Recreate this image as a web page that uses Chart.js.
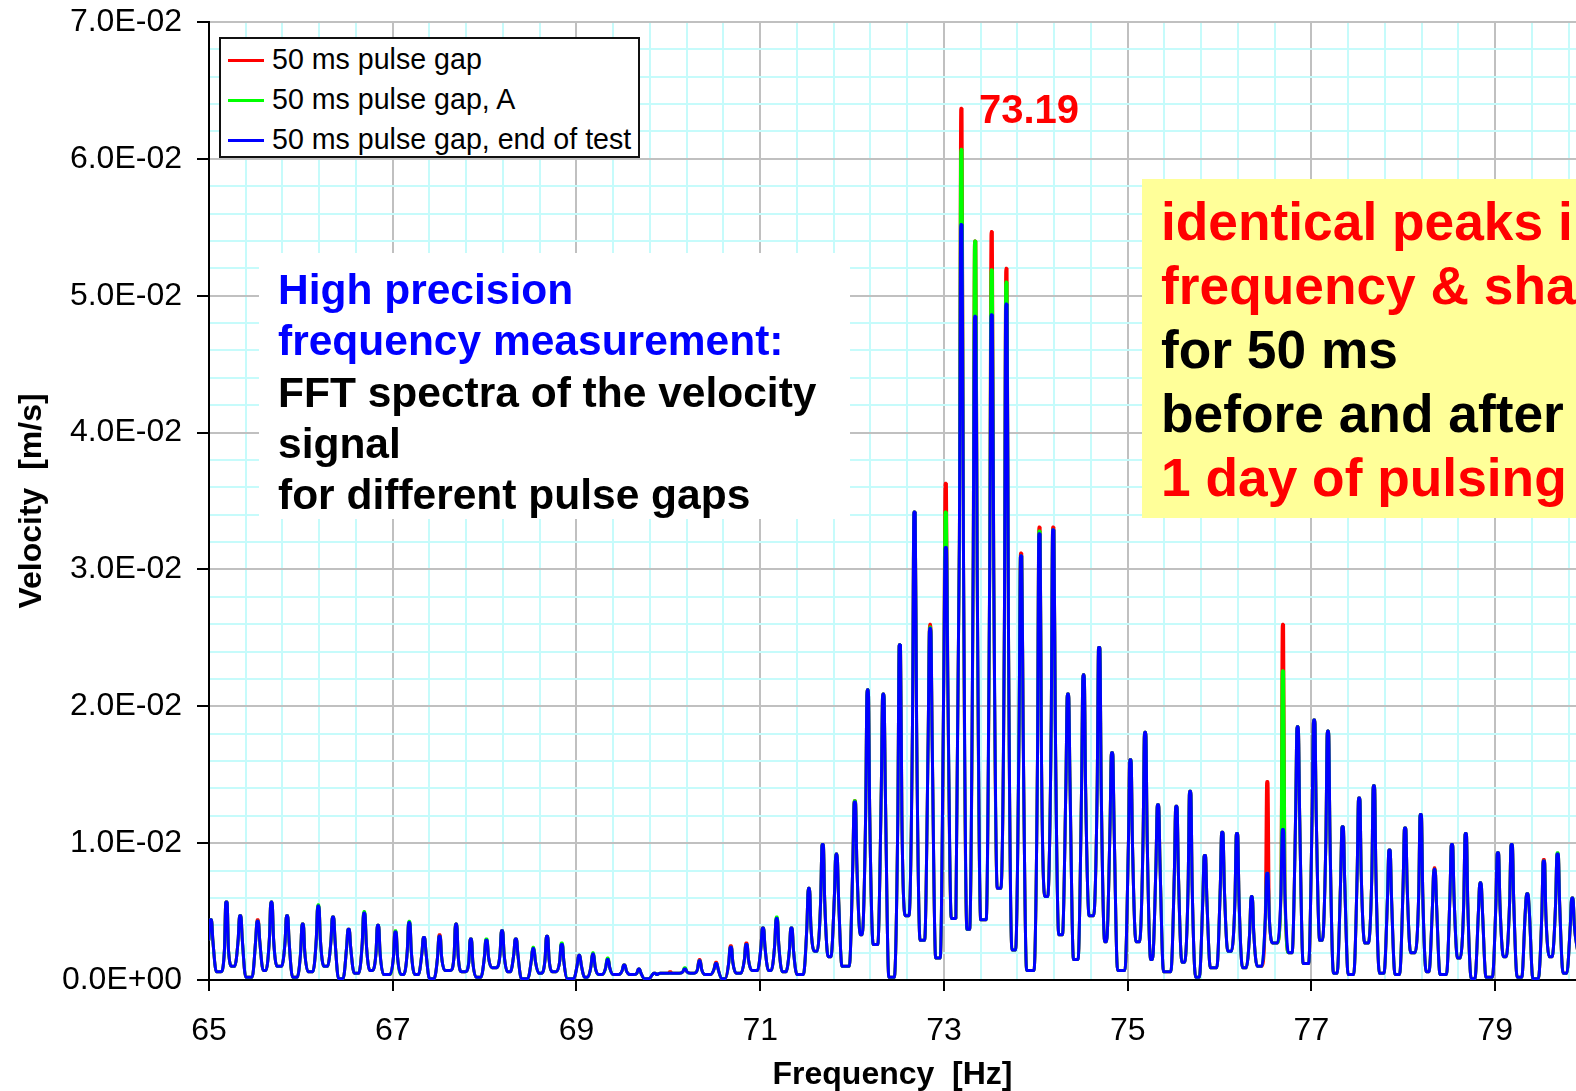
<!DOCTYPE html>
<html>
<head>
<meta charset="utf-8">
<script src="https://cdn.jsdelivr.net/npm/chart.js@4/dist/chart.umd.min.js"></script>
<style>
html,body{margin:0;padding:0;background:#fff;}
#wrap{position:relative;width:1576px;height:1091px;overflow:hidden;background:#fff;}
#c{position:absolute;left:0;top:0;}
.ov{position:absolute;font-family:"Liberation Sans",Arial,Helvetica,sans-serif;white-space:nowrap;}
#note1{left:259px;top:253px;width:591px;height:266px;background:#fff;}
#note1txt{left:278px;top:264px;font-weight:bold;font-size:42.5px;line-height:51.3px;color:#000;}
#note2{left:1142px;top:179px;width:600px;height:339px;background:#ffff99;}
#note2txt{left:1161px;top:190px;font-weight:bold;font-size:53.3px;line-height:64px;color:#000;}
#peakLabel{left:979px;top:89px;font-weight:bold;font-size:40px;line-height:40px;color:#ff0000;}
#legendBox{left:219px;top:37px;width:421px;height:121px;box-sizing:border-box;border:2px solid #111;background:#fff;}
.lgLine{position:absolute;height:3px;width:36px;}
.lgText{position:absolute;font-family:"Liberation Sans",Arial,Helvetica,sans-serif;font-size:28.6px;line-height:28.6px;color:#000;white-space:nowrap;}
.red{color:#ff0000;} .blue{color:#0000ff;}
</style>
</head>
<body>
<div id="wrap">
<canvas id="c" width="1576" height="1091"></canvas>
<div id="note1" class="ov"></div>
<div id="note1txt" class="ov"><span class="blue">High precision</span><br><span class="blue">frequency measurement:</span><br>FFT spectra of the velocity<br>signal<br>for different pulse gaps</div>
<div id="note2" class="ov"></div>
<div id="note2txt" class="ov"><span class="red">identical peaks in</span><br><span class="red">frequency &amp; shape</span><br>for 50 ms<br>before and after<br><span class="red">1 day of pulsing</span></div>
<div id="peakLabel" class="ov">73.19</div>
<div id="legendBox" class="ov"></div>
</div>
<script>
// ---- data ----
const peakFreq = [
65.02,65.19,65.34,65.53,65.68,65.85,66.02,66.19,66.35,66.52,
66.69,66.84,67.03,67.18,67.34,67.51,67.69,67.85,68.02,68.19,
68.34,68.53,68.68,68.84,69.03,69.18,69.34,69.52,69.68,69.85,
70.02,70.18,70.34,70.52,70.68,70.85,71.03,71.18,71.34,71.53,
71.68,71.83,72.03,72.17,72.34,72.52,72.68,72.85,73.02,73.19,
73.34,73.52,73.68,73.84,74.04,74.19,74.35,74.52,74.69,74.83,
75.03,75.19,75.33,75.53,75.68,75.84,76.03,76.19,76.35,76.52,
76.69,76.85,77.03,77.18,77.34,77.52,77.68,77.85,78.02,78.19,
78.34,78.53,78.68,78.84,79.03,79.18,79.35,79.53,79.68,79.84];

const peakRed = [
.0044,.0057,.0047,.0044,.0057,.0047,.0041,.0054,.0046,.0037,
.0049,.0040,.0035,.0042,.0031,.0033,.0041,.0030,.0029,.0036,
.0030,.0023,.0032,.0026,.0018,.0019,.0015,.0011,.0008,.0005,
.0006,.0008,.0015,.0013,.0025,.0027,.0038,.0045,.0038,.0067,
.0099,.0092,.0131,.0212,.0209,.0245,.0342,.0260,.0363,.0637,
.0540,.0547,.0520,.0312,.0331,.0331,.0209,.0223,.0243,.0166,
.0161,.0181,.0128,.0127,.0138,.0091,.0108,.0107,.0061,.0145,
.0260,.0185,.0190,.0182,.0112,.0133,.0142,.0095,.0111,.0121,
.0082,.0099,.0107,.0071,.0093,.0099,.0063,.0088,.0092,.0060];

const peakGreen = [
.0044,.0057,.0047,.0043,.0057,.0047,.0041,.0055,.0046,.0037,
.0050,.0040,.0036,.0043,.0031,.0032,.0041,.0030,.0030,.0036,
.0030,.0024,.0032,.0027,.0018,.0020,.0016,.0011,.0008,.0005,
.0005,.0009,.0014,.0012,.0024,.0026,.0038,.0046,.0038,.0067,
.0099,.0092,.0131,.0212,.0209,.0245,.0342,.0258,.0342,.0607,
.0540,.0519,.0510,.0310,.0328,.0329,.0209,.0223,.0243,.0166,
.0161,.0181,.0128,.0127,.0138,.0091,.0108,.0107,.0061,.0078,
.0226,.0185,.0190,.0182,.0112,.0133,.0142,.0095,.0111,.0121,
.0081,.0099,.0107,.0071,.0093,.0099,.0063,.0087,.0093,.0060];

const peakBlue = [
.0044,.0057,.0047,.0043,.0057,.0047,.0041,.0054,.0046,.0037,
.0049,.0040,.0035,.0042,.0031,.0032,.0041,.0030,.0029,.0036,
.0030,.0023,.0032,.0026,.0018,.0019,.0015,.0011,.0008,.0005,
.0005,.0008,.0014,.0012,.0024,.0026,.0038,.0045,.0038,.0067,
.0099,.0092,.0130,.0212,.0209,.0245,.0342,.0257,.0316,.0552,
.0485,.0486,.0494,.0310,.0326,.0329,.0209,.0223,.0243,.0166,
.0161,.0181,.0128,.0127,.0138,.0091,.0108,.0107,.0061,.0078,
.0110,.0185,.0190,.0182,.0112,.0133,.0142,.0095,.0111,.0121,
.0081,.0099,.0107,.0071,.0093,.0099,.0063,.0087,.0092,.0060];

// level at the foot of each spike
const shoulder = [
.0029,.0022,.0030,.0029,.0031,.0028,.0021,.0030,.0029,.0024,
.0027,.0020,.0017,.0021,.0020,.0017,.0018,.0013,.0017,.0019,
.0019,.0014,.0015,.0014,.0011,.0010,.0009,.0007,.0005,.0004,
.0005,.0006,.0008,.0008,.0013,.0015,.0024,.0026,.0022,.0039,
.0058,.0062,.0085,.0122,.0139,.0120,.0190,.0175,.0220,.0320,
.0300,.0300,.0260,.0185,.0160,.0190,.0145,.0140,.0140,.0113,
.0100,.0105,.0085,.0078,.0069,.0059,.0068,.0059,.0035,.0045,
.0063,.0120,.0122,.0105,.0073,.0078,.0078,.0060,.0069,.0063,
.0055,.0062,.0056,.0050,.0056,.0058,.0050,.0048,.0056,.0040];

// minimum between consecutive spikes
const valley = [
.0006,.0010,.0002,.0007,.0010,.0002,.0006,.0010,.0001,.0005,
.0007,.0004,.0004,.0004,.0001,.0007,.0006,.0002,.0009,.0006,
.0001,.0005,.0006,.0001,.0002,.0004,.0004,.0004,.0001,.0005,
.0005,.0005,.0004,.0001,.0005,.0007,.0007,.0006,.0004,.0021,
.0017,.0010,.0033,.0026,.0002,.0047,.0029,.0016,.0045,.0037,
.0044,.0067,.0022,.0007,.0061,.0033,.0015,.0047,.0028,.0007,
.0028,.0015,.0006,.0013,.0002,.0009,.0021,.0009,.0010,.0027,
.0020,.0012,.0029,.0005,.0004,.0027,.0005,.0004,.0020,.0006,
.0004,.0016,.0001,.0002,.0017,.0002,.0001,.0017,.0005];
const tailLevel = 0.0020;

const seriesLabels = ['50 ms pulse gap', '50 ms pulse gap, A', '50 ms pulse gap, end of test'];
const seriesColors = ['#ff0000', '#00ff00', '#0000ff'];

const xMajorTicks = [65, 67, 69, 71, 73, 75, 77, 79];
const yMajorTicks = [0, 0.01, 0.02, 0.03, 0.04, 0.05, 0.06, 0.07];
const X_MIN = 65, X_MAX = 79.88, Y_MIN = 0, Y_MAX = 0.07;
const MINOR_DIV = 5;

// ---- build the line tables ----
const SPIKE_BASE = 0.022, SPIKE_TOP = 0.007, FOOT = 0.06;
function buildSeries(peaks) {
  const pts = [];
  const n = peakFreq.length;
  for (let i = 0; i < n; i++) {
    const f = peakFreq[i];
    pts.push({x: f - SPIKE_BASE, y: shoulder[i]});
    pts.push({x: f - SPIKE_TOP, y: peaks[i]});
    pts.push({x: f + SPIKE_TOP, y: peaks[i]});
    pts.push({x: f + SPIKE_BASE, y: shoulder[i]});
    if (i < valley.length) {
      pts.push({x: f + FOOT, y: valley[i]});
      pts.push({x: peakFreq[i + 1] - FOOT, y: valley[i]});
    }
  }
  pts.push({x: peakFreq[n - 1] + FOOT, y: tailLevel});
  return pts;
}

function sciLabel(v) {
  if (Math.abs(v) < 1e-12) return '0.0E+00';
  let e = Math.floor(Math.log10(Math.abs(v)) + 1e-9);
  const m = v / Math.pow(10, e);
  return m.toFixed(1) + 'E' + (e < 0 ? '-' : '+') + String(Math.abs(e)).padStart(2, '0');
}
function isMajorOf(list, v) { return list.some(t => Math.abs(t - v) < 1e-7); }
function ticksFrom(list, maxV) {
  const out = [];
  for (let k = 0; k < list.length; k++) {
    const a = list[k];
    const step = (k + 1 < list.length ? list[k + 1] - a : list[1] - list[0]) / MINOR_DIV;
    for (let j = 0; j < MINOR_DIV; j++) {
      const v = +(a + j * step).toFixed(6);
      if (v <= maxV + 1e-9) out.push({value: v});
    }
  }
  return out;
}

const GRID_MAJOR = '#c0c0c0', GRID_MINOR = '#c6fbfb';
Chart.defaults.font.family = '"Liberation Sans", Arial, Helvetica, sans-serif';
Chart.defaults.color = '#000';

const lineCommon = {pointRadius: 0, borderWidth: 3, tension: 0.4, cubicInterpolationMode: 'monotone',
  borderJoinStyle: 'bevel', borderCapStyle: 'butt', fill: false};
const chart = new Chart(document.getElementById('c'), {
  type: 'line',
  data: {
    datasets: [
      Object.assign({label: seriesLabels[0], data: buildSeries(peakRed), borderColor: seriesColors[0], backgroundColor: seriesColors[0], order: 2}, lineCommon),
      Object.assign({label: seriesLabels[1], data: buildSeries(peakGreen), borderColor: seriesColors[1], backgroundColor: seriesColors[1], order: 1}, lineCommon),
      Object.assign({label: seriesLabels[2], data: buildSeries(peakBlue), borderColor: seriesColors[2], backgroundColor: seriesColors[2], order: 0}, lineCommon)
    ]
  },
  options: {
    responsive: false,
    animation: false,
    events: [],
    layout: {padding: {top: 22, right: 0, bottom: 0, left: 0}},
    plugins: {legend: {display: false}, tooltip: {enabled: false}},
    scales: {
      x: {
        type: 'linear', min: X_MIN, max: X_MAX,
        afterBuildTicks: s => { s.ticks = ticksFrom(xMajorTicks, X_MAX); },
        afterFit: s => { s.height = 111; s.paddingLeft = 0; s.paddingRight = 0; },
        ticks: {autoSkip: false, maxRotation: 0, padding: 21, font: {size: 32},
          callback: v => isMajorOf(xMajorTicks, v) ? String(Math.round(v)) : ''},
        grid: {
          color: c => (c.tick && isMajorOf(xMajorTicks, c.tick.value)) ? GRID_MAJOR : GRID_MINOR,
          lineWidth: 2, tickLength: 11, tickWidth: 2,
          tickColor: c => (c.tick && isMajorOf(xMajorTicks, c.tick.value)) ? '#000' : 'rgba(0,0,0,0)'
        },
        border: {color: '#000', width: 2},
        title: {display: true, text: 'Frequency  [Hz]', font: {size: 32, weight: 'bold'}, padding: {top: 0, bottom: -3}}
      },
      y: {
        type: 'linear', min: Y_MIN, max: Y_MAX,
        afterBuildTicks: s => { s.ticks = ticksFrom(yMajorTicks, Y_MAX); },
        afterFit: s => { s.width = 209; s.paddingTop = 0; s.paddingBottom = 0; },
        ticks: {autoSkip: false, padding: 15, font: {size: 32},
          callback: v => isMajorOf(yMajorTicks, v) ? sciLabel(v) : ''},
        grid: {
          color: c => (c.tick && isMajorOf(yMajorTicks, c.tick.value)) ? GRID_MAJOR : GRID_MINOR,
          lineWidth: 2, tickLength: 12, tickWidth: 2,
          tickColor: c => (c.tick && isMajorOf(yMajorTicks, c.tick.value)) ? '#000' : 'rgba(0,0,0,0)'
        },
        border: {color: '#000', width: 2},
        title: {display: true, text: 'Velocity  [m/s]', font: {size: 32, weight: 'bold'}, padding: {top: 13, bottom: 0}}
      }
    }
  }
});

// ---- HTML legend built from the chart's datasets ----
const wrap = document.getElementById('wrap');
chart.data.datasets.forEach((ds, i) => {
  const rowMid = 60 + i * 40.2;
  const ln = document.createElement('div');
  ln.className = 'lgLine';
  ln.style.left = '228px';
  ln.style.top = (rowMid - 1.5) + 'px';
  ln.style.background = ds.borderColor;
  wrap.appendChild(ln);
  const tx = document.createElement('div');
  tx.className = 'lgText';
  tx.style.left = '272px';
  tx.style.top = (rowMid + 9 - 24.2) + 'px';
  tx.textContent = ds.label;
  wrap.appendChild(tx);
});
</script>
</body>
</html>
